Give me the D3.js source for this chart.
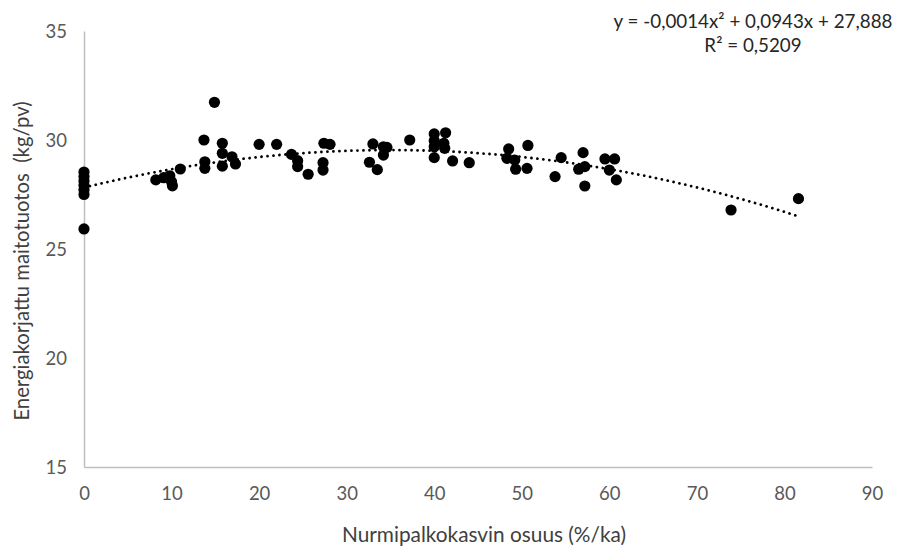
<!DOCTYPE html>
<html>
<head>
<meta charset="utf-8">
<script src="https://cdn.jsdelivr.net/npm/d3@7/dist/d3.min.js"></script>
<style>
  html, body { margin: 0; padding: 0; background: #fff; }
  svg { display: block; font-family: Lato, "Open Sans", sans-serif; }
</style>
</head>
<body>
<svg id="chart" width="906" height="547"></svg>
<script>
// Share of grass legumes in the forage (%) per farm
const legumeShare = [
  0, 0, 0, 0, 0, 0, 0,
  8.2, 9.1, 9.8, 10.0, 10.1, 11.0,
  13.7, 13.8, 13.8, 14.9, 15.8, 15.8, 15.8, 16.9, 17.3,
  20.0, 22.0, 23.7, 24.4, 24.4, 25.6,
  27.4, 28.1, 27.3, 27.3,
  33.0, 32.6, 33.5, 34.2, 34.6, 34.2,
  37.2, 40.0, 40.0, 40.0, 40.0, 41.3, 41.1, 41.2, 42.1, 44.0,
  48.5, 48.3, 49.2, 49.3, 50.7, 50.6,
  54.5, 53.8, 57.0, 56.5, 57.2, 57.2,
  59.5, 60.6, 60.0, 60.8,
  73.9, 81.6
];
// Energy-corrected milk yield (kg/day) for the same farms
const ecmYield = [
  28.53, 28.33, 28.12, 27.92, 27.72, 27.50, 25.92,
  28.17, 28.27, 28.36, 28.09, 27.90, 28.67,
  30.00, 29.00, 28.70, 31.73, 29.85, 29.39, 28.80, 29.23, 28.90,
  29.80, 29.80, 29.34, 29.05, 28.78, 28.43,
  29.85, 29.80, 28.96, 28.62,
  29.82, 28.98, 28.64, 29.69, 29.66, 29.31,
  30.00, 30.28, 29.97, 29.69, 29.19, 30.33, 29.85, 29.62, 29.04, 28.96,
  29.59, 29.16, 29.08, 28.66, 29.75, 28.70,
  29.19, 28.32, 29.42, 28.66, 28.78, 27.89,
  29.13, 29.13, 28.62, 28.17,
  26.79, 27.31
];
const xTicks = [0, 10, 20, 30, 40, 50, 60, 70, 80, 90];
const yTicks = [15, 20, 25, 30, 35];
const equationLines = ["y = -0,0014x² + 0,0943x + 27,888", "R² = 0,5209"];
const xTitle = "Nurmipalkokasvin osuus (%/ka)";
const yTitle = "Energiakorjattu maitotuotos  (kg/pv)";

const svg = d3.select("#chart");
const plot = { left: 84, right: 872, top: 31, bottom: 467 };

const x = d3.scaleLinear().domain([0, 90]).range([plot.left, plot.right]);
const y = d3.scaleLinear().domain([15, 35]).range([plot.bottom, plot.top]);

// Axes: light grey lines, no tick marks
const xAxis = svg.append("g")
  .attr("transform", `translate(0,${plot.bottom})`)
  .call(d3.axisBottom(x).tickValues(xTicks).tickSize(0).tickPadding(20).tickFormat(d3.format("d")));
const yAxis = svg.append("g")
  .attr("transform", `translate(${plot.left},0)`)
  .call(d3.axisLeft(y).tickValues(yTicks).tickSize(0).tickPadding(17).tickFormat(d3.format("d")));

[xAxis, yAxis].forEach(g => {
  g.select(".domain").attr("stroke", "#bfbfbf").attr("stroke-width", 1.5);
  g.selectAll("text").attr("fill", "#595959").style("font-size", "18.5px").style("font-family", "Lato, sans-serif");
});
yAxis.selectAll("text").attr("dy", "0.35em");

// Quadratic least-squares trend of yield on legume share
function quadFit(xs, ys) {
  const s = [0, 0, 0, 0, 0], t = [0, 0, 0];
  xs.forEach((xi, i) => {
    let p = 1;
    for (let k = 0; k < 5; k++) { s[k] += p; if (k < 3) t[k] += p * ys[i]; p *= xi; }
  });
  const m = [
    [s[0], s[1], s[2], t[0]],
    [s[1], s[2], s[3], t[1]],
    [s[2], s[3], s[4], t[2]]
  ];
  for (let c = 0; c < 3; c++) {
    for (let r = c + 1; r < 3; r++) {
      const f = m[r][c] / m[c][c];
      for (let k = c; k < 4; k++) m[r][k] -= f * m[c][k];
    }
  }
  const b = [0, 0, 0];
  for (let r = 2; r >= 0; r--) {
    let v = m[r][3];
    for (let k = r + 1; k < 3; k++) v -= m[r][k] * b[k];
    b[r] = v / m[r][r];
  }
  return b; // [c0, c1, c2]
}
const coef = quadFit(legumeShare, ecmYield);
const xMax = d3.max(legumeShare);
const trendPts = d3.range(0, xMax + 0.001, xMax / 120).map(v => [v, coef[0] + coef[1] * v + coef[2] * v * v]);

// Points
svg.append("g").selectAll("circle")
  .data(legumeShare.map((v, i) => [v, ecmYield[i]]))
  .join("circle")
  .attr("cx", d => x(d[0]))
  .attr("cy", d => y(d[1]))
  .attr("r", 5.6)
  .attr("fill", "#000");

// Dotted trend line drawn over the points
svg.append("path")
  .datum(trendPts)
  .attr("d", d3.line().x(d => x(d[0])).y(d => y(d[1])))
  .attr("fill", "none")
  .attr("stroke", "#000")
  .attr("stroke-width", 2.8)
  .attr("stroke-linecap", "round")
  .attr("stroke-dasharray", "0.01 6");

// Trend equation
svg.append("g").selectAll("text")
  .data(equationLines)
  .join("text")
  .attr("x", 753)
  .attr("y", (d, i) => 28 + i * 24)
  .attr("text-anchor", "middle")
  .attr("fill", "#262626")
  .style("font-size", "18.8px")
  .text(d => d);

// Axis titles
svg.append("text")
  .attr("x", 484)
  .attr("y", 542)
  .attr("text-anchor", "middle")
  .attr("fill", "#404040")
  .style("font-size", "20.8px")
  .text(xTitle);

svg.append("text")
  .attr("transform", "translate(29,261) rotate(-90)")
  .attr("text-anchor", "middle")
  .attr("fill", "#404040")
  .style("font-size", "20.3px")
  .style("white-space", "pre")
  .text(yTitle);
</script>
</body>
</html>
